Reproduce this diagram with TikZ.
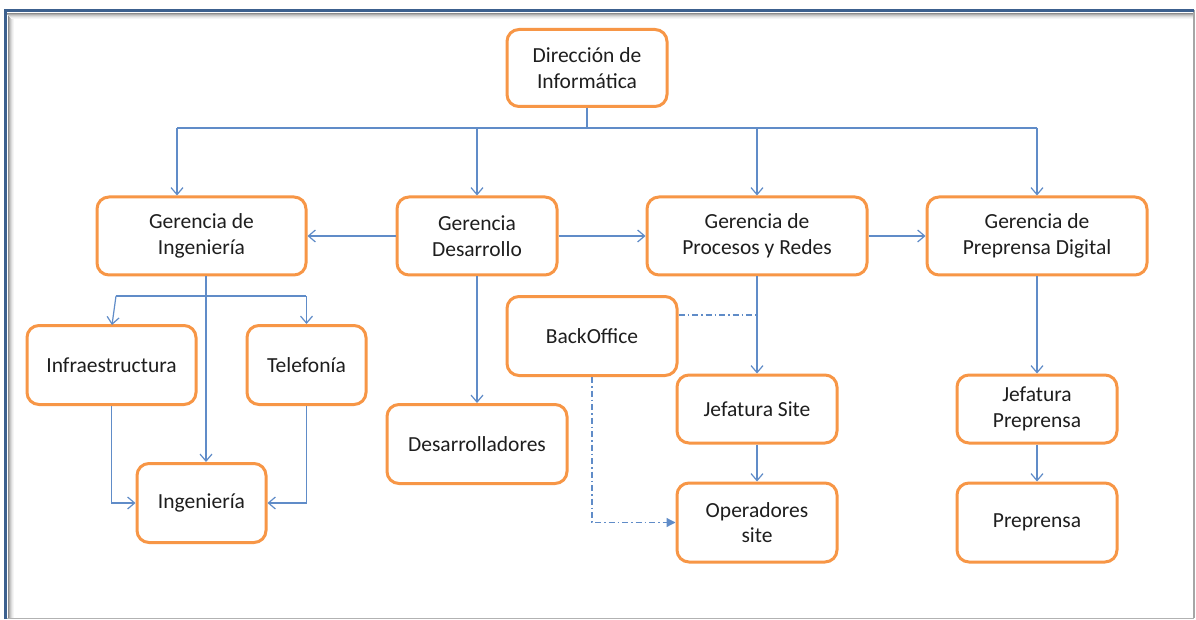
\documentclass[tikz,border=0pt]{standalone}
\usepackage{fontspec}
\setmainfont{Carlito}
\usetikzlibrary{arrows.meta}
\definecolor{boxorange}{RGB}{247,150,70}
\definecolor{linkblue}{RGB}{96,140,200}
\definecolor{frameblue}{RGB}{60,96,142}
\definecolor{labelgray}{RGB}{30,30,30}
\begin{document}
\begin{tikzpicture}[x=1pt,y=-1pt,
  unit/.style={draw=boxorange, line width=3pt, rounded corners=12pt, fill=white,
    align=center, text=labelgray, font=\fontsize{21.5}{25.5}\selectfont, inner sep=0pt},
  link/.style={draw=linkblue, line width=1.2pt, -{Straight Barb[length=7pt,width=12pt,line width=1.2pt]}},
  plain/.style={draw=linkblue, line width=1.2pt},
  dashdot/.style={draw=linkblue, line width=1.2pt, dash pattern=on 6pt off 3pt on 1.5pt off 3pt},
  dashdotarrow/.style={dashdot, -{Triangle[length=9pt,width=9pt]}}
]
\useasboundingbox (0,0) rectangle (1196,620);
% page frame with inner shadow
\fill[white] (0,0) rectangle (1196,620);
\foreach \i/\g in {0/45,1/32,2/22,3/14,4/8,5/4}{
  \draw[black!\g, line width=1pt] (6+\i,13.5+\i) -- (1193,13.5+\i);
  \draw[black!\g, line width=1pt] (8.5+\i,13.5+\i) -- (8.5+\i,618);
}
\draw[black!35, line width=1.2pt] (1194,10) -- (1194,618);
\draw[black!30, line width=1pt] (5,618.5) -- (1194,618.5);
\draw[frameblue, line width=3.5pt] (5.5,619) -- (5.5,10.5) -- (1194,10.5);

% boxes
\node[unit, minimum width=160pt, minimum height=77pt] (dir) at (587,68) {Dirección de\\Informática};
\node[unit, minimum width=209pt, minimum height=78pt] (ging) at (201.5,236) {Gerencia de\\Ingeniería};
\node[unit, minimum width=160pt, minimum height=78pt] (gdes) at (477,236) {Gerencia\\Desarrollo};
\node[unit, minimum width=220pt, minimum height=78pt] (gpro) at (757,236) {Gerencia de\\Procesos y Redes};
\node[unit, minimum width=220pt, minimum height=78pt] (gpre) at (1037,236) {Gerencia de\\Preprensa Digital};
\node[unit, minimum width=170pt, minimum height=79pt] (back) at (592,336) {BackOffice};
\node[unit, minimum width=169pt, minimum height=79pt] (infra) at (111.5,365) {Infraestructura};
\node[unit, minimum width=119pt, minimum height=79pt] (tel) at (306.5,365) {Telefonía};
\node[unit, minimum width=129pt, minimum height=79pt] (ing) at (201.5,503) {Ingeniería};
\node[unit, minimum width=180pt, minimum height=79pt] (desa) at (477,444) {Desarrolladores};
\node[unit, minimum width=160pt, minimum height=68pt] (jsite) at (757,409) {Jefatura Site};
\node[unit, minimum width=160pt, minimum height=79pt] (oper) at (757,522.5) {Operadores\\site};
\node[unit, minimum width=160pt, minimum height=68pt] (jpre) at (1037,409) {Jefatura\\Preprensa};
\node[unit, minimum width=160pt, minimum height=79pt] (pre) at (1037,522.5) {Preprensa};

% junction points
\coordinate (busL) at (177,128);
\coordinate (busR) at (1037,128);
\coordinate (brk) at (206,296);
\coordinate (dd) at (757,315);

% top level distribution
\draw[plain] (dir.south) -- (dir.south |- busL);
\draw[plain] (busL) -- (busR);
\draw[link] (busL) -- (busL |- ging.north);
\draw[link] (gdes.north |- busL) -- (gdes.north);
\draw[link] (gpro.north |- busL) -- (gpro.north);
\draw[link] (busR) -- (gpre.north);

% links between the managements
\draw[link] (gdes.west) -- (ging.east);
\draw[link] (gdes.east) -- (gpro.west);
\draw[link] (gpro.east) -- (gpre.west);

% engineering branch
\draw[link] (brk |- ging.south) -- (brk |- ing.north);
\draw[plain] (116,296) -- (306,296);
\draw[link] (116,296) -- (112,325);
\draw[link] (tel.north |- brk) -- (tel.north);
\draw[link] (infra.south) -- (infra.south |- ing.west) -- (ing.west);
\draw[link] (tel.south) -- (tel.south |- ing.east) -- (ing.east);

% development branch
\draw[link] (gdes.south) -- (desa.north);

% processes branch
\draw[link] (gpro.south) -- (jsite.north);
\draw[link] (jsite.south) -- (oper.north);
\draw[dashdot] (back.east |- dd) -- (dd);
\draw[dashdotarrow] (back.south) -- (back.south |- oper.west) -- (oper.west);

% prepress branch
\draw[link] (gpre.south) -- (jpre.north);
\draw[link] (jpre.south) -- (pre.north);
\end{tikzpicture}
\end{document}
